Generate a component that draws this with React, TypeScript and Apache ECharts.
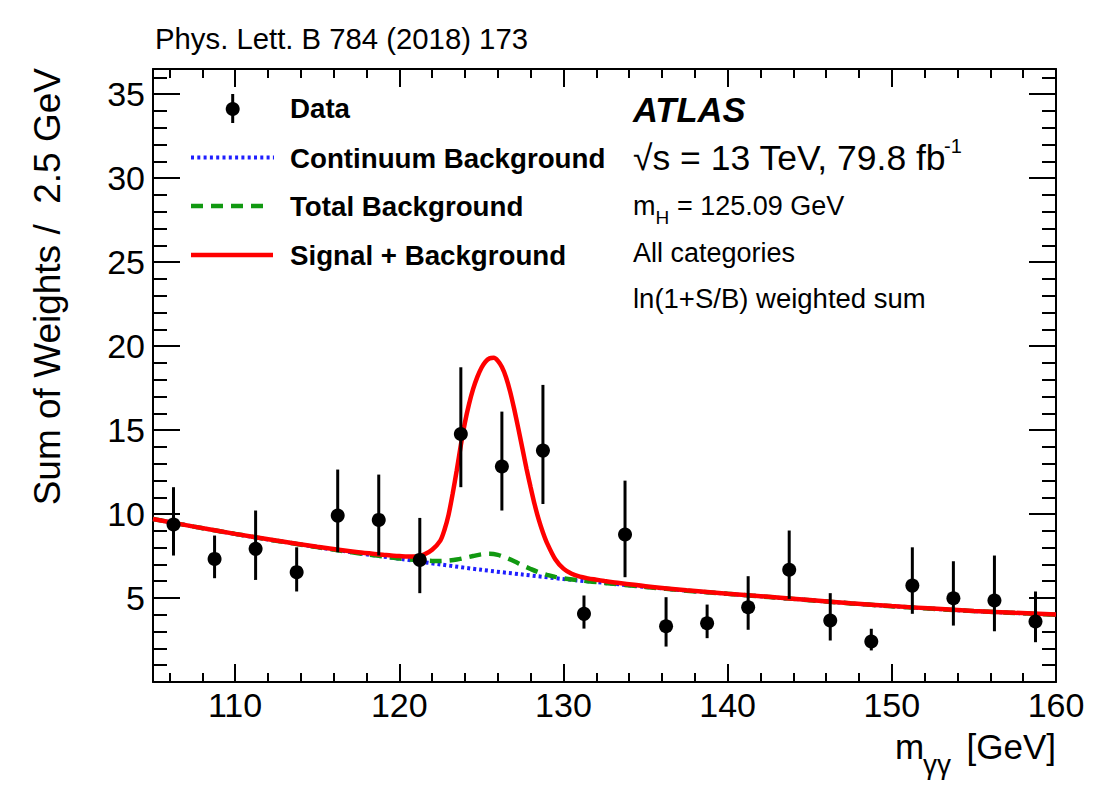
import React, { useEffect, useRef } from "react";
import * as echarts from "echarts";

const FONT = "'Liberation Sans', Arial, Helvetica, sans-serif";

// ---------- axis ticks ----------
const xMajorTicks = [110, 120, 130, 140, 150, 160];
const xMinorTicks = [106, 108, 112, 114, 116, 118, 122, 124, 126, 128, 132, 134, 136, 138, 142, 144, 146, 148, 152, 154, 156, 158];
const yMajorTicks = [5, 10, 15, 20, 25, 30, 35];
const yMinorTicks = [1, 2, 3, 4, 6, 7, 8, 9, 11, 12, 13, 14, 16, 17, 18, 19, 21, 22, 23, 24, 26, 27, 28, 29, 31, 32, 33, 34, 36];

// ---------- data points ----------
const dataX = [106.25, 108.75, 111.25, 113.75, 116.25, 118.75, 121.25, 123.75, 126.25, 128.75, 131.25, 133.75, 136.25, 138.75, 141.25, 143.75, 146.25, 148.75, 151.25, 153.75, 156.25, 158.75];
const dataY = [9.38, 7.33, 7.93, 6.54, 9.91, 9.65, 7.27, 14.77, 12.83, 13.78, 4.06, 8.78, 3.32, 3.5, 4.45, 6.68, 3.66, 2.41, 5.74, 4.99, 4.85, 3.6];
const errLow = [7.53, 6.18, 6.08, 5.39, 7.73, 7.53, 5.29, 11.6, 10.21, 10.6, 3.18, 6.24, 2.11, 2.61, 3.11, 4.95, 2.47, 1.88, 4.06, 3.36, 3.02, 2.37];
const errHigh = [11.6, 8.72, 10.21, 8.02, 12.65, 12.35, 9.77, 18.74, 16.1, 17.69, 5.15, 11.99, 5.05, 4.61, 6.3, 9.02, 5.29, 3.17, 8.02, 7.19, 7.53, 5.39];

// ---------- curves ----------
const continuumX = [105, 107.5, 110, 112.5, 115, 117.5, 120, 122.5, 125, 127.5, 130, 132.5, 135, 137.5, 140, 142.5, 145, 147.5, 150, 152.5, 155, 157.5, 160];
const continuumY = [9.71, 9.25, 8.82, 8.41, 8.03, 7.67, 7.34, 7.0, 6.68, 6.4, 6.13, 5.9, 5.66, 5.44, 5.25, 5.06, 4.87, 4.68, 4.51, 4.36, 4.22, 4.11, 4.01];

const totalBkgX = [105, 107.5, 110, 112.5, 115, 117.5, 120, 121, 122, 122.5, 123, 123.5, 124, 124.5, 125, 125.5, 126, 126.5, 127, 127.5, 128, 128.5, 129, 129.5, 130, 131, 132.5, 135, 137.5, 140, 142.5, 145, 147.5, 150, 152.5, 155, 157.5, 160];
const totalBkgY = [9.71, 9.25, 8.82, 8.41, 8.03, 7.67, 7.36, 7.26, 7.21, 7.2, 7.23, 7.29, 7.39, 7.5, 7.6, 7.63, 7.57, 7.4, 7.19, 6.95, 6.73, 6.53, 6.38, 6.26, 6.17, 6.05, 5.9, 5.66, 5.44, 5.25, 5.06, 4.87, 4.68, 4.51, 4.36, 4.22, 4.11, 4.01];

const sigBkgX = [
  105, 107.5, 110, 112.5, 115, 117.5, 119, 119.5, 120, 120.5, 121, 121.5, 122, 122.5,
  122.75, 123, 123.25, 123.5, 123.75, 124, 124.25, 124.5, 124.75, 125, 125.25, 125.5, 125.75,
  126, 126.25, 126.5, 126.75, 127, 127.25, 127.5, 127.75, 128, 128.25, 128.5, 128.75, 129,
  129.5, 130, 130.5, 131, 131.5, 132, 132.5, 133, 135, 137.5, 140, 142.5, 145, 147.5, 150, 152.5, 155, 157.5, 160,
];
const sigBkgY = [
  9.71, 9.25, 8.82, 8.42, 8.05, 7.72, 7.58, 7.53, 7.5, 7.47, 7.48, 7.58, 7.87, 8.42,
  9.05, 9.95, 11.2, 12.6, 14.1, 15.45, 16.55, 17.45, 18.15, 18.7, 19.07, 19.27, 19.3,
  19.13, 18.75, 18.15, 17.3, 16.25, 15.1, 13.9, 12.7, 11.6, 10.55, 9.65, 8.9, 8.27,
  7.31, 6.75, 6.44, 6.27, 6.17, 6.09, 6.01, 5.94, 5.7, 5.46, 5.26, 5.07, 4.88, 4.69, 4.52, 4.37, 4.23, 4.12, 4.02,
];

const BLUE = "#1f1fff";
const GREEN = "#119911";
const RED = "#ff0000";

const X_MIN = 105;
const X_MAX = 160;
const Y_MIN = 0;
const Y_MAX = 36.5;

function xAxisDef(position: string, ticks: number[], len: number, withLabels: boolean, showLine: boolean) {
  return {
    type: "value",
    min: X_MIN,
    max: X_MAX,
    position,
    axisLine: { show: showLine, onZero: false, lineStyle: { color: "#000", width: 2 } },
    axisTick: { show: true, inside: true, length: len, customValues: ticks, lineStyle: { color: "#000", width: 2 } },
    axisLabel: withLabels
      ? { show: true, customValues: ticks, fontSize: 34, fontFamily: FONT, color: "#000", margin: 6 }
      : { show: false },
    splitLine: { show: false },
    minorTick: { show: false },
  };
}

function yAxisDef(position: string, ticks: number[], len: number, withLabels: boolean, showLine: boolean) {
  return {
    type: "value",
    min: Y_MIN,
    max: Y_MAX,
    position,
    axisLine: { show: showLine, onZero: false, lineStyle: { color: "#000", width: 2 } },
    axisTick: { show: true, inside: true, length: len, customValues: ticks, lineStyle: { color: "#000", width: 2 } },
    axisLabel: withLabels
      ? { show: true, customValues: ticks, fontSize: 34, fontFamily: FONT, color: "#000", margin: 8 }
      : { show: false },
    splitLine: { show: false },
    minorTick: { show: false },
  };
}

function txt(x: number, y: number, text: string, size: number, extra: any = {}, align = "left") {
  return {
    type: "text",
    x,
    y,
    z: 100,
    style: {
      text,
      fontSize: size,
      fontFamily: FONT,
      fill: "#000",
      align,
      verticalAlign: "middle",
      ...extra,
    },
  };
}

export default function App() {
  const ref = useRef<HTMLDivElement>(null);

  useEffect(() => {
    if (!ref.current) return;
    const chart = echarts.init(ref.current, undefined, { renderer: "svg" });

    const lineCommon = {
      type: "line",
      xAxisIndex: 0,
      yAxisIndex: 0,
      showSymbol: false,
      smooth: 0.3,
    };

    const option: any = {
      animation: false,
      backgroundColor: "#fff",
      grid: { left: 153, top: 69, width: 903, height: 613, containLabel: false },
      xAxis: [
        xAxisDef("bottom", xMajorTicks, 18, true, true),
        xAxisDef("bottom", xMinorTicks, 9, false, false),
        xAxisDef("top", xMajorTicks, 18, false, true),
        xAxisDef("top", xMinorTicks, 9, false, false),
      ],
      yAxis: [
        yAxisDef("left", yMajorTicks, 27, true, true),
        yAxisDef("left", yMinorTicks, 14, false, false),
        yAxisDef("right", yMajorTicks, 27, false, true),
        yAxisDef("right", yMinorTicks, 14, false, false),
      ],
      series: [
        {
          ...lineCommon,
          name: "Continuum Background",
          data: continuumX.map((x, i) => [x, continuumY[i]]),
          lineStyle: { color: BLUE, width: 4, type: [3, 3] },
          z: 2,
        },
        {
          ...lineCommon,
          name: "Total Background",
          data: totalBkgX.map((x, i) => [x, totalBkgY[i]]),
          lineStyle: { color: GREEN, width: 4.5, type: [12, 8] },
          z: 3,
        },
        {
          ...lineCommon,
          name: "Signal + Background",
          data: sigBkgX.map((x, i) => [x, sigBkgY[i]]),
          lineStyle: { color: RED, width: 4.5 },
          z: 4,
        },
        {
          name: "Data errors",
          type: "custom",
          xAxisIndex: 0,
          yAxisIndex: 0,
          data: dataX.map((x, i) => [x, errLow[i], errHigh[i]]),
          encode: { x: 0, y: [1, 2] },
          renderItem: (params: any, api: any) => {
            const x = api.value(0);
            const p1 = api.coord([x, api.value(1)]);
            const p2 = api.coord([x, api.value(2)]);
            return {
              type: "line",
              shape: { x1: p1[0], y1: p1[1], x2: p2[0], y2: p2[1] },
              style: { stroke: "#000", lineWidth: 3 },
            };
          },
          z: 5,
        },
        {
          name: "Data",
          type: "scatter",
          xAxisIndex: 0,
          yAxisIndex: 0,
          data: dataX.map((x, i) => [x, dataY[i]]),
          symbol: "circle",
          symbolSize: 14,
          itemStyle: { color: "#000", opacity: 1 },
          z: 6,
        },
      ],
      graphic: [
        // header
        txt(155, 38.5, "Phys. Lett. B 784 (2018) 173", 29.3),
        // y-axis title
        {
          type: "text",
          x: 47,
          y: 68,
          rotation: Math.PI / 2,
          z: 100,
          style: {
            text: "Sum of Weights /\u00a0\u00a02.5 GeV",
            fontSize: 37,
            fontFamily: FONT,
            fill: "#000",
            align: "right",
            verticalAlign: "middle",
          },
        },
        // x-axis title
        txt(895, 746, "m", 35),
        txt(923, 764, "γγ", 28),
        txt(1056, 746, "[GeV]", 35, {}, "right"),
        // legend
        { type: "line", shape: { x1: 232.7, y1: 94, x2: 232.7, y2: 123 }, style: { stroke: "#000", lineWidth: 3 }, z: 100 },
        { type: "circle", shape: { cx: 232.7, cy: 109, r: 7 }, style: { fill: "#000" }, z: 100 },
        txt(290, 108, "Data", 27.7, { fontWeight: "bold" }),
        { type: "line", shape: { x1: 191, y1: 157.5, x2: 274, y2: 157.5 }, style: { stroke: BLUE, lineWidth: 4, lineDash: [3, 3.3] }, z: 100 },
        txt(290, 158, "Continuum Background", 27.7, { fontWeight: "bold" }),
        { type: "line", shape: { x1: 191, y1: 206, x2: 263, y2: 206 }, style: { stroke: GREEN, lineWidth: 4.5, lineDash: [12, 8] }, z: 100 },
        txt(290, 206, "Total Background", 27.7, { fontWeight: "bold" }),
        { type: "line", shape: { x1: 191, y1: 255, x2: 273, y2: 255 }, style: { stroke: RED, lineWidth: 4.5 }, z: 100 },
        txt(290, 255, "Signal + Background", 27.7, { fontWeight: "bold" }),
        // ATLAS labels
        txt(633, 109.5, "ATLAS", 34.5, { fontWeight: "bold", fontStyle: "italic" }),
        txt(633, 158, "√s = 13 TeV, 79.8 fb", 35.5),
        txt(944, 146, "-1", 20),
        txt(633, 205.5, "m", 27),
        txt(655.5, 217, "H", 19),
        txt(669.5, 205.5, " = 125.09 GeV", 27),
        txt(633, 253, "All categories", 27),
        txt(633, 298, "ln(1+S/B) weighted sum", 27.5),
      ],
    };

    chart.setOption(option);
    return () => {
      chart.dispose();
    };
  }, []);

  return (
    <div
      ref={ref}
      style={{ position: "absolute", left: 0, top: 0, width: 1107, height: 790, background: "#fff" }}
    />
  );
}
